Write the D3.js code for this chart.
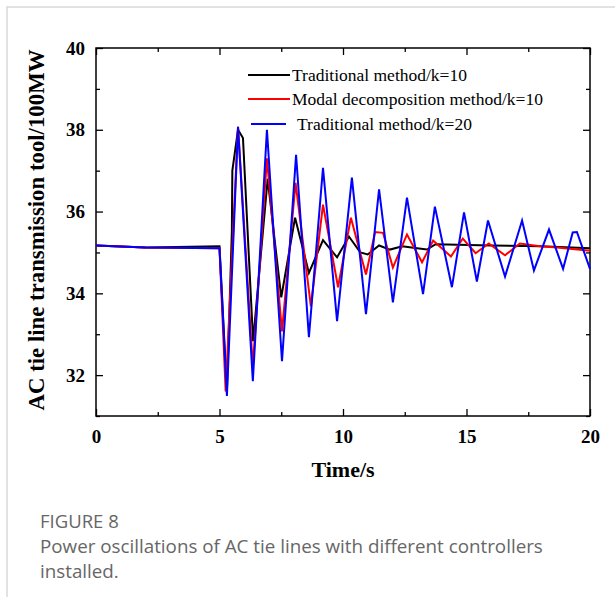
<!DOCTYPE html>
<html>
<head>
<meta charset="utf-8">
<script src="https://cdn.jsdelivr.net/npm/d3@7"></script>
<style>
  body { margin: 0; background: #fff; }
  svg { display: block; }
</style>
</head>
<body>
<div id="chart"></div>
<script>
// series data (time in s, power in 100MW)
const blueTime = [0, 2, 5, 5.3, 5.75, 6.35, 6.92, 7.53, 8.1, 8.62, 9.19, 9.76, 10.36, 10.93, 11.46, 12.02, 12.59, 13.24, 13.72, 14.41, 14.9, 15.42, 15.87, 16.56, 17.25, 17.73, 18.34, 18.91, 19.3, 19.47, 20];
const blueValues = [35.17, 35.12, 35.1, 31.49, 38.07, 31.85, 38.0, 32.34, 37.39, 32.93, 37.07, 33.32, 36.83, 33.49, 36.54, 33.78, 36.34, 33.98, 36.12, 34.15, 35.98, 34.29, 35.78, 34.41, 35.78, 34.56, 35.56, 34.6, 35.49, 35.5, 34.6];

const redTime = [0, 2, 5, 5.25, 5.75, 6.35, 6.92, 7.53, 8.08, 8.7, 9.19, 9.8, 10.32, 10.93, 11.3, 11.62, 12.02, 12.59, 13.2, 13.65, 14.37, 14.85, 15.37, 15.9, 16.56, 17.16, 17.98, 18.66, 19.9, 20];
const redValues = [35.17, 35.12, 35.1, 31.6, 38.07, 32.2, 37.3, 33.07, 36.7, 33.68, 36.17, 34.15, 35.85, 34.46, 35.5, 35.48, 34.63, 35.44, 34.76, 35.29, 34.9, 35.34, 34.98, 35.22, 34.93, 35.22, 35.15, 35.12, 35.05, 35.05];

const blackTime = [0, 2, 5, 5.3, 5.5, 5.52, 5.75, 5.95, 6.36, 6.95, 7.5, 8.06, 8.62, 9.19, 9.76, 10.24, 10.7, 11.0, 11.46, 11.9, 12.4, 13.0, 13.4, 13.75, 16, 18, 20];
const blackValues = [35.17, 35.12, 35.15, 31.6, 35.5, 37.0, 38.0, 37.8, 32.83, 36.8, 33.9, 35.85, 34.5, 35.3, 34.88, 35.39, 35.0, 34.95, 35.17, 35.07, 35.15, 35.1, 35.07, 35.2, 35.17, 35.15, 35.1];

const seriesNames = ['Traditional method/k=10', 'Modal decomposition method/k=10', 'Traditional method/k=20'];
const seriesColors = ['#000000', '#ff0000', '#0000ff'];

const xTicks = [0, 5, 10, 15, 20];
const xMinorTicks = [2.5, 7.5, 12.5, 17.5];
const yTicks = [32, 34, 36, 38, 40];
const yMinorTicks = [31, 33, 35, 37, 39];

const xTitle = 'Time/s';
const yTitle = 'AC tie line transmission tool/100MW';
const captionTitle = 'FIGURE 8';
const captionLines = ['Power oscillations of AC tie lines with different controllers', 'installed.'];

const width = 615, height = 597;
const margin = {left: 96, right: 25, top: 48, bottom: 181};
const plotW = width - margin.left - margin.right;
const plotH = height - margin.top - margin.bottom;

const svg = d3.select('#chart').append('svg')
    .attr('width', width)
    .attr('height', height);

// card border (top + left)
svg.append('path')
    .attr('d', `M7,${height} V7 H${width}`)
    .attr('fill', 'none')
    .attr('stroke', '#d9d9d9')
    .attr('stroke-width', 1.5);

const x = d3.scaleLinear().domain([0, 20]).range([0, plotW]);
const y = d3.scaleLinear().domain([31, 40]).range([plotH, 0]);

const g = svg.append('g').attr('transform', `translate(${margin.left},${margin.top})`);

const serif = '"Liberation Serif", "Times New Roman", serif';

function styleAxis(sel) {
    sel.select('.domain').remove();
    sel.selectAll('line').attr('stroke', '#000').attr('stroke-width', 1.3);
}

// major + minor ticks on all four sides, pointing inward
const bottomMajor = g.append('g').attr('transform', `translate(0,${plotH})`)
    .call(d3.axisBottom(x).tickValues(xTicks).tickSizeInner(-7).tickSizeOuter(0).tickPadding(14).tickFormat(d3.format('d')));
styleAxis(bottomMajor);
bottomMajor.selectAll('text')
    .attr('font-family', serif).attr('font-weight', 'bold').attr('font-size', 19).attr('fill', '#000');

const bottomMinor = g.append('g').attr('transform', `translate(0,${plotH})`)
    .call(d3.axisBottom(x).tickValues(xMinorTicks).tickSizeInner(-4).tickSizeOuter(0).tickFormat(''));
styleAxis(bottomMinor);

const topMajor = g.append('g')
    .call(d3.axisTop(x).tickValues(xTicks).tickSizeInner(-7).tickSizeOuter(0).tickFormat(''));
styleAxis(topMajor);
const topMinor = g.append('g')
    .call(d3.axisTop(x).tickValues(xMinorTicks).tickSizeInner(-4).tickSizeOuter(0).tickFormat(''));
styleAxis(topMinor);

const leftMajor = g.append('g')
    .call(d3.axisLeft(y).tickValues(yTicks).tickSizeInner(-7).tickSizeOuter(0).tickPadding(11).tickFormat(d3.format('d')));
styleAxis(leftMajor);
leftMajor.selectAll('text')
    .attr('font-family', serif).attr('font-weight', 'bold').attr('font-size', 19).attr('fill', '#000');
const leftMinor = g.append('g')
    .call(d3.axisLeft(y).tickValues(yMinorTicks).tickSizeInner(-4).tickSizeOuter(0).tickFormat(''));
styleAxis(leftMinor);

const rightMajor = g.append('g').attr('transform', `translate(${plotW},0)`)
    .call(d3.axisRight(y).tickValues(yTicks).tickSizeInner(-7).tickSizeOuter(0).tickFormat(''));
styleAxis(rightMajor);
const rightMinor = g.append('g').attr('transform', `translate(${plotW},0)`)
    .call(d3.axisRight(y).tickValues(yMinorTicks).tickSizeInner(-4).tickSizeOuter(0).tickFormat(''));
styleAxis(rightMinor);

// frame
g.append('rect')
    .attr('width', plotW).attr('height', plotH)
    .attr('fill', 'none').attr('stroke', '#000').attr('stroke-width', 1.5);

// lines
const series = [
    {t: blackTime, v: blackValues},
    {t: redTime, v: redValues},
    {t: blueTime, v: blueValues}
];
const line = d3.line().x(d => x(d[0])).y(d => y(d[1]));
series.forEach((s, i) => {
    g.append('path')
        .attr('d', line(d3.zip(s.t, s.v)))
        .attr('fill', 'none')
        .attr('stroke', seriesColors[i])
        .attr('stroke-width', 2)
        .attr('stroke-linejoin', 'miter');
});

// legend
const legendRows = [
    {x1: 152, x2: 194, tx: 196, y: 27},
    {x1: 152, x2: 194, tx: 196, y: 51},
    {x1: 155, x2: 190, tx: 201, y: 76}
];
legendRows.forEach((r, i) => {
    g.append('line')
        .attr('x1', r.x1).attr('x2', r.x2).attr('y1', r.y).attr('y2', r.y)
        .attr('stroke', seriesColors[i]).attr('stroke-width', 2);
    g.append('text')
        .attr('x', r.tx).attr('y', r.y + 6)
        .attr('font-family', serif).attr('font-size', 17.5)
        .text(seriesNames[i]);
});

// axis titles
svg.append('text')
    .attr('x', margin.left + plotW / 2).attr('y', 477)
    .attr('text-anchor', 'middle')
    .attr('font-family', serif).attr('font-weight', 'bold').attr('font-size', 22)
    .text(xTitle);

svg.append('text')
    .attr('transform', `translate(44,${margin.top + plotH / 2 - 2}) rotate(-90)`)
    .attr('text-anchor', 'middle')
    .attr('font-family', serif).attr('font-weight', 'bold').attr('font-size', 22.8)
    .text(yTitle);

// caption
const sans = '"Open Sans", "Noto Sans", sans-serif';
svg.append('text')
    .attr('x', 40).attr('y', 528)
    .attr('font-family', sans).attr('font-size', 18.5).attr('fill', '#666')
    .text(captionTitle);
captionLines.forEach((l, i) => {
    svg.append('text')
        .attr('x', 40).attr('y', 553 + i * 25)
        .attr('font-family', sans).attr('font-size', 18.8).attr('fill', '#666')
        .text(l);
});
</script>
</body>
</html>
